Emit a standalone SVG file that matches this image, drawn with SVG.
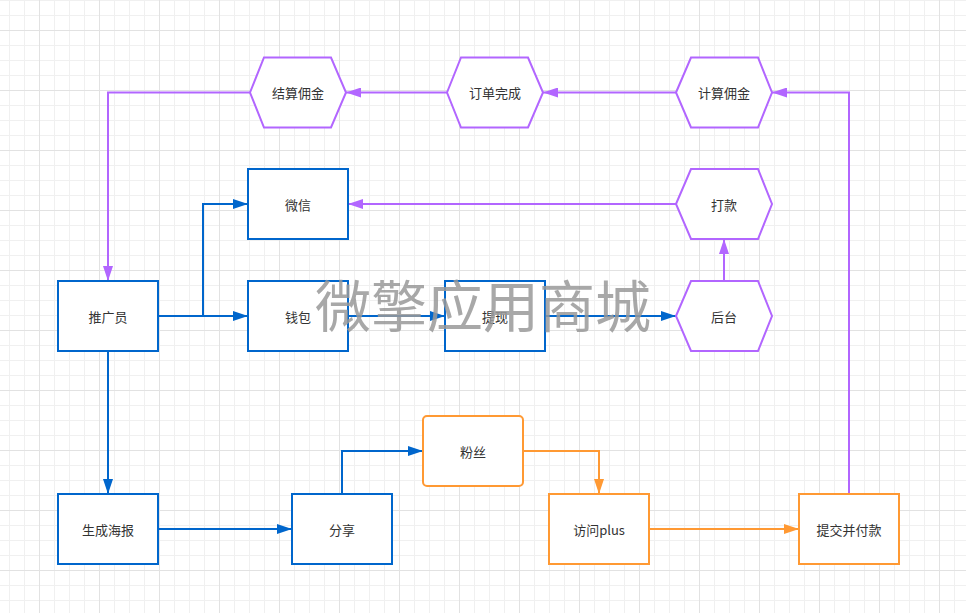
<svg xmlns="http://www.w3.org/2000/svg" width="966" height="613" viewBox="0 0 966 613">
<defs>
<pattern id="grid" patternUnits="userSpaceOnUse" x="9" y="0" width="60" height="60">
<path d="M0.5,0V60M15.5,0V60M45.5,0V60M0,0.5H60M0,15.5H60M0,45.5H60" stroke="#f0f0f0" stroke-width="1" fill="none"/>
<path d="M30.5,0V60M0,30.5H60" stroke="#e2e2e2" stroke-width="1" fill="none"/>
</pattern>
<marker id="ab" markerUnits="userSpaceOnUse" markerWidth="15" markerHeight="10" refX="15" refY="5" orient="auto"><path d="M0,0L15,5L0,10z" fill="#0066cc"/></marker>
<marker id="ap" markerUnits="userSpaceOnUse" markerWidth="15" markerHeight="10" refX="15" refY="5" orient="auto"><path d="M0,0L15,5L0,10z" fill="#b266ff"/></marker>
<marker id="ao" markerUnits="userSpaceOnUse" markerWidth="15" markerHeight="10" refX="15" refY="5" orient="auto"><path d="M0,0L15,5L0,10z" fill="#ff9933"/></marker>
</defs>
<style>
.blue{fill:#fff;stroke:#0066cc;stroke-width:2}
.purple{fill:#fff;stroke:#b266ff;stroke-width:2}
.orange{fill:#fff;stroke:#ff9933;stroke-width:2}
.lb{fill:none;stroke:#0066cc;stroke-width:2}
.lp{fill:none;stroke:#b266ff;stroke-width:2}
.lo{fill:none;stroke:#ff9933;stroke-width:2}
.t{font-family:"Noto Sans CJK SC","Liberation Sans",sans-serif;font-size:13px;fill:#333;text-anchor:middle;dominant-baseline:central}
.wm{font-family:"Noto Sans CJK SC",sans-serif;font-size:56px;fill:#999;opacity:0.85;text-anchor:middle}
</style>
<rect width="966" height="613" fill="#fff"/>
<rect width="966" height="613" fill="url(#grid)"/>

<g id="connectors">
<path class="lp" d="M676,92.5H543" marker-end="url(#ap)"/>
<path class="lp" d="M447,92.5H346" marker-end="url(#ap)"/>
<path class="lp" d="M250,92.5H108V281" marker-end="url(#ap)"/>
<path class="lp" d="M849,494V92.5H772" marker-end="url(#ap)"/>
<path class="lp" d="M676,204H348" marker-end="url(#ap)"/>
<path class="lp" d="M724,281V239" marker-end="url(#ap)"/>
<path class="lb" d="M158,316H248" marker-end="url(#ab)"/>
<path class="lb" d="M203,316V204H248" marker-end="url(#ab)"/>
<path class="lb" d="M348,316H445" marker-end="url(#ab)"/>
<path class="lb" d="M545,316H676" marker-end="url(#ab)"/>
<path class="lb" d="M108,351V494" marker-end="url(#ab)"/>
<path class="lb" d="M158,529H292" marker-end="url(#ab)"/>
<path class="lb" d="M342,494V451H423" marker-end="url(#ab)"/>
<path class="lo" d="M523,451H599V494" marker-end="url(#ao)"/>
<path class="lo" d="M649,529H799" marker-end="url(#ao)"/>
</g>

<g id="n-jiesuan"><polygon class="purple" points="250,92.5 264,57.5 331,57.5 346,92.5 331,127.5 264,127.5"/><text class="t" x="298" y="92.5">结算佣金</text></g>
<g id="n-dingdan"><polygon class="purple" points="447,92.5 461,57.5 528,57.5 543,92.5 528,127.5 461,127.5"/><text class="t" x="495" y="92.5">订单完成</text></g>
<g id="n-jisuan"><polygon class="purple" points="676,92.5 691,57.5 758,57.5 772,92.5 758,127.5 691,127.5"/><text class="t" x="724" y="92.5">计算佣金</text></g>
<g id="n-dakuan"><polygon class="purple" points="676,204 691,169 758,169 772,204 758,239 691,239"/><text class="t" x="724" y="204">打款</text></g>
<g id="n-houtai"><polygon class="purple" points="676,316 691,281 758,281 772,316 758,351 691,351"/><text class="t" x="724" y="316">后台</text></g>

<g id="n-tuiguangyuan"><rect class="blue" x="58" y="281" width="100" height="70"/><text class="t" x="108" y="316">推广员</text></g>
<g id="n-weixin"><rect class="blue" x="248" y="169" width="100" height="70"/><text class="t" x="298" y="204">微信</text></g>
<g id="n-qianbao"><rect class="blue" x="248" y="281" width="100" height="70"/><text class="t" x="298" y="316">钱包</text></g>
<g id="n-tixian"><rect class="blue" x="445" y="281" width="100" height="70"/><text class="t" x="495" y="316">提现</text></g>
<g id="n-haibao"><rect class="blue" x="58" y="494" width="100" height="70"/><text class="t" x="108" y="529">生成海报</text></g>
<g id="n-fenxiang"><rect class="blue" x="292" y="494" width="100" height="70"/><text class="t" x="342" y="529">分享</text></g>
<g id="n-fensi"><rect class="orange" x="423" y="416" width="100" height="70" rx="4"/><text class="t" x="473" y="451">粉丝</text></g>
<g id="n-fangwen"><rect class="orange" x="549" y="494" width="100" height="70"/><text class="t" x="599" y="529">访问plus</text></g>
<g id="n-tijiao"><rect class="orange" x="799" y="494" width="100" height="70"/><text class="t" x="849" y="529">提交并付款</text></g>

<text class="wm" x="483" y="327">微擎应用商城</text>
</svg>
